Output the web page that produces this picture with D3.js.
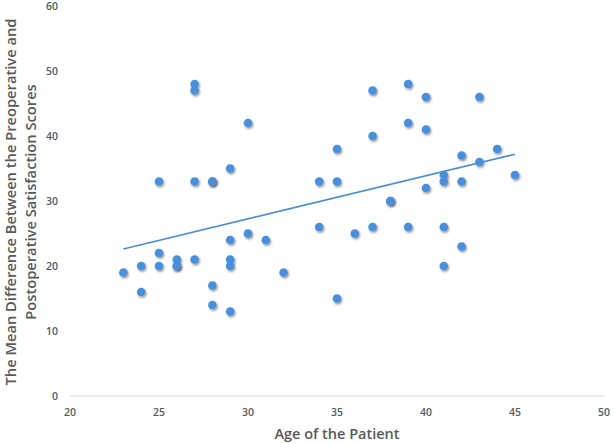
<!DOCTYPE html>
<html><head><meta charset="utf-8">
<script src="https://cdn.jsdelivr.net/npm/d3@7"></script>
<style>body{margin:0;background:#fff}svg{display:block}</style>
</head><body>
<svg id="c" width="614" height="444"></svg>
<script>
const ages = [23,24,24,25,25,25,26,26,26,27,27,27,27,28,28,28,28,29,29,29,29,29,30,30,31,32,34,34,35,35,35,36,37,37,37,38,38,39,39,39,40,40,40,41,41,41,41,42,42,42,43,43,44,45];
const scores = [19,20,16,33,22,20,21,20,20,48,47,33,21,33,33,17,14,35,24,21,20,13,42,25,24,19,33,26,38,33,15,25,47,40,26,30,30,48,42,26,46,41,32,34,33,26,20,37,33,23,46,36,38,34];
const xTicks = [20,25,30,35,40,45,50];
const yTicks = [0,10,20,30,40,50,60];
const xTitle = "Age of the Patient";
const yTitleLines = ["The Mean Difference Between the Preoperative and","Postoperative Satisfaction Scores"];

const svg = d3.select("#c");
const x = d3.scaleLinear().domain([20,50]).range([70,604]);
const y = d3.scaleLinear().domain([0,60]).range([396,6]);
const grey = "#595959";
const font = "'Open Sans', Lato, sans-serif";

const defs = svg.append("defs");
const f = defs.append("filter").attr("id","sh").attr("x","-50%").attr("y","-50%").attr("width","200%").attr("height","200%");
f.append("feDropShadow").attr("dx",1).attr("dy",1.5).attr("stdDeviation",1.2).attr("flood-color","#000").attr("flood-opacity",0.45);

// baseline
svg.append("line").attr("x1",x(20)).attr("x2",x(50)).attr("y1",y(0)).attr("y2",y(0))
  .attr("stroke","#d9d9d9").attr("stroke-width",1);

// y tick labels
svg.append("g").selectAll("text").data(yTicks).join("text")
  .attr("x",58).attr("y",d=>y(d)).attr("dy","0.35em").attr("text-anchor","end")
  .attr("font-family",font).attr("font-size",10.5).attr("font-weight",600).attr("fill",grey).text(d=>d);
// x tick labels
svg.append("g").selectAll("text").data(xTicks).join("text")
  .attr("x",d=>x(d)).attr("y",416).attr("text-anchor","middle")
  .attr("font-family",font).attr("font-size",10.5).attr("font-weight",600).attr("fill",grey).text(d=>d);

// titles
svg.append("text").attr("x",x(35)).attr("y",439).attr("text-anchor","middle")
  .attr("font-family",font).attr("font-size",14.5).attr("font-weight",600).attr("fill",grey).text(xTitle);
const yt = svg.append("text").attr("transform","translate(16,202) rotate(-90)")
  .attr("text-anchor","middle").attr("font-family",font).attr("font-size",14.7).attr("font-weight",600).attr("fill",grey);
yTitleLines.forEach((l,i)=>yt.append("tspan").attr("x",0).attr("y",i*20).text(l));

// points
const pts = ages.map((a,i)=>({a, s:scores[i]}));
svg.append("g").selectAll("circle").data(pts).join("circle")
  .attr("cx",d=>x(d.a)).attr("cy",d=>y(d.s)).attr("r",4.3)
  .attr("fill","#4a8fdb").attr("filter","url(#sh)");

// trend line (least squares)
const mx = d3.mean(ages), my = d3.mean(scores);
const b = d3.sum(pts,d=>(d.a-mx)*(d.s-my))/d3.sum(pts,d=>(d.a-mx)**2);
const a0 = my - b*mx;
const ext = d3.extent(ages);
svg.append("path").datum(ext).attr("d",d3.line().x(d=>x(d)).y(d=>y(a0+b*d)))
  .attr("stroke","#4a8fd6").attr("stroke-width",1.6).attr("fill","none");
</script>
</body></html>
